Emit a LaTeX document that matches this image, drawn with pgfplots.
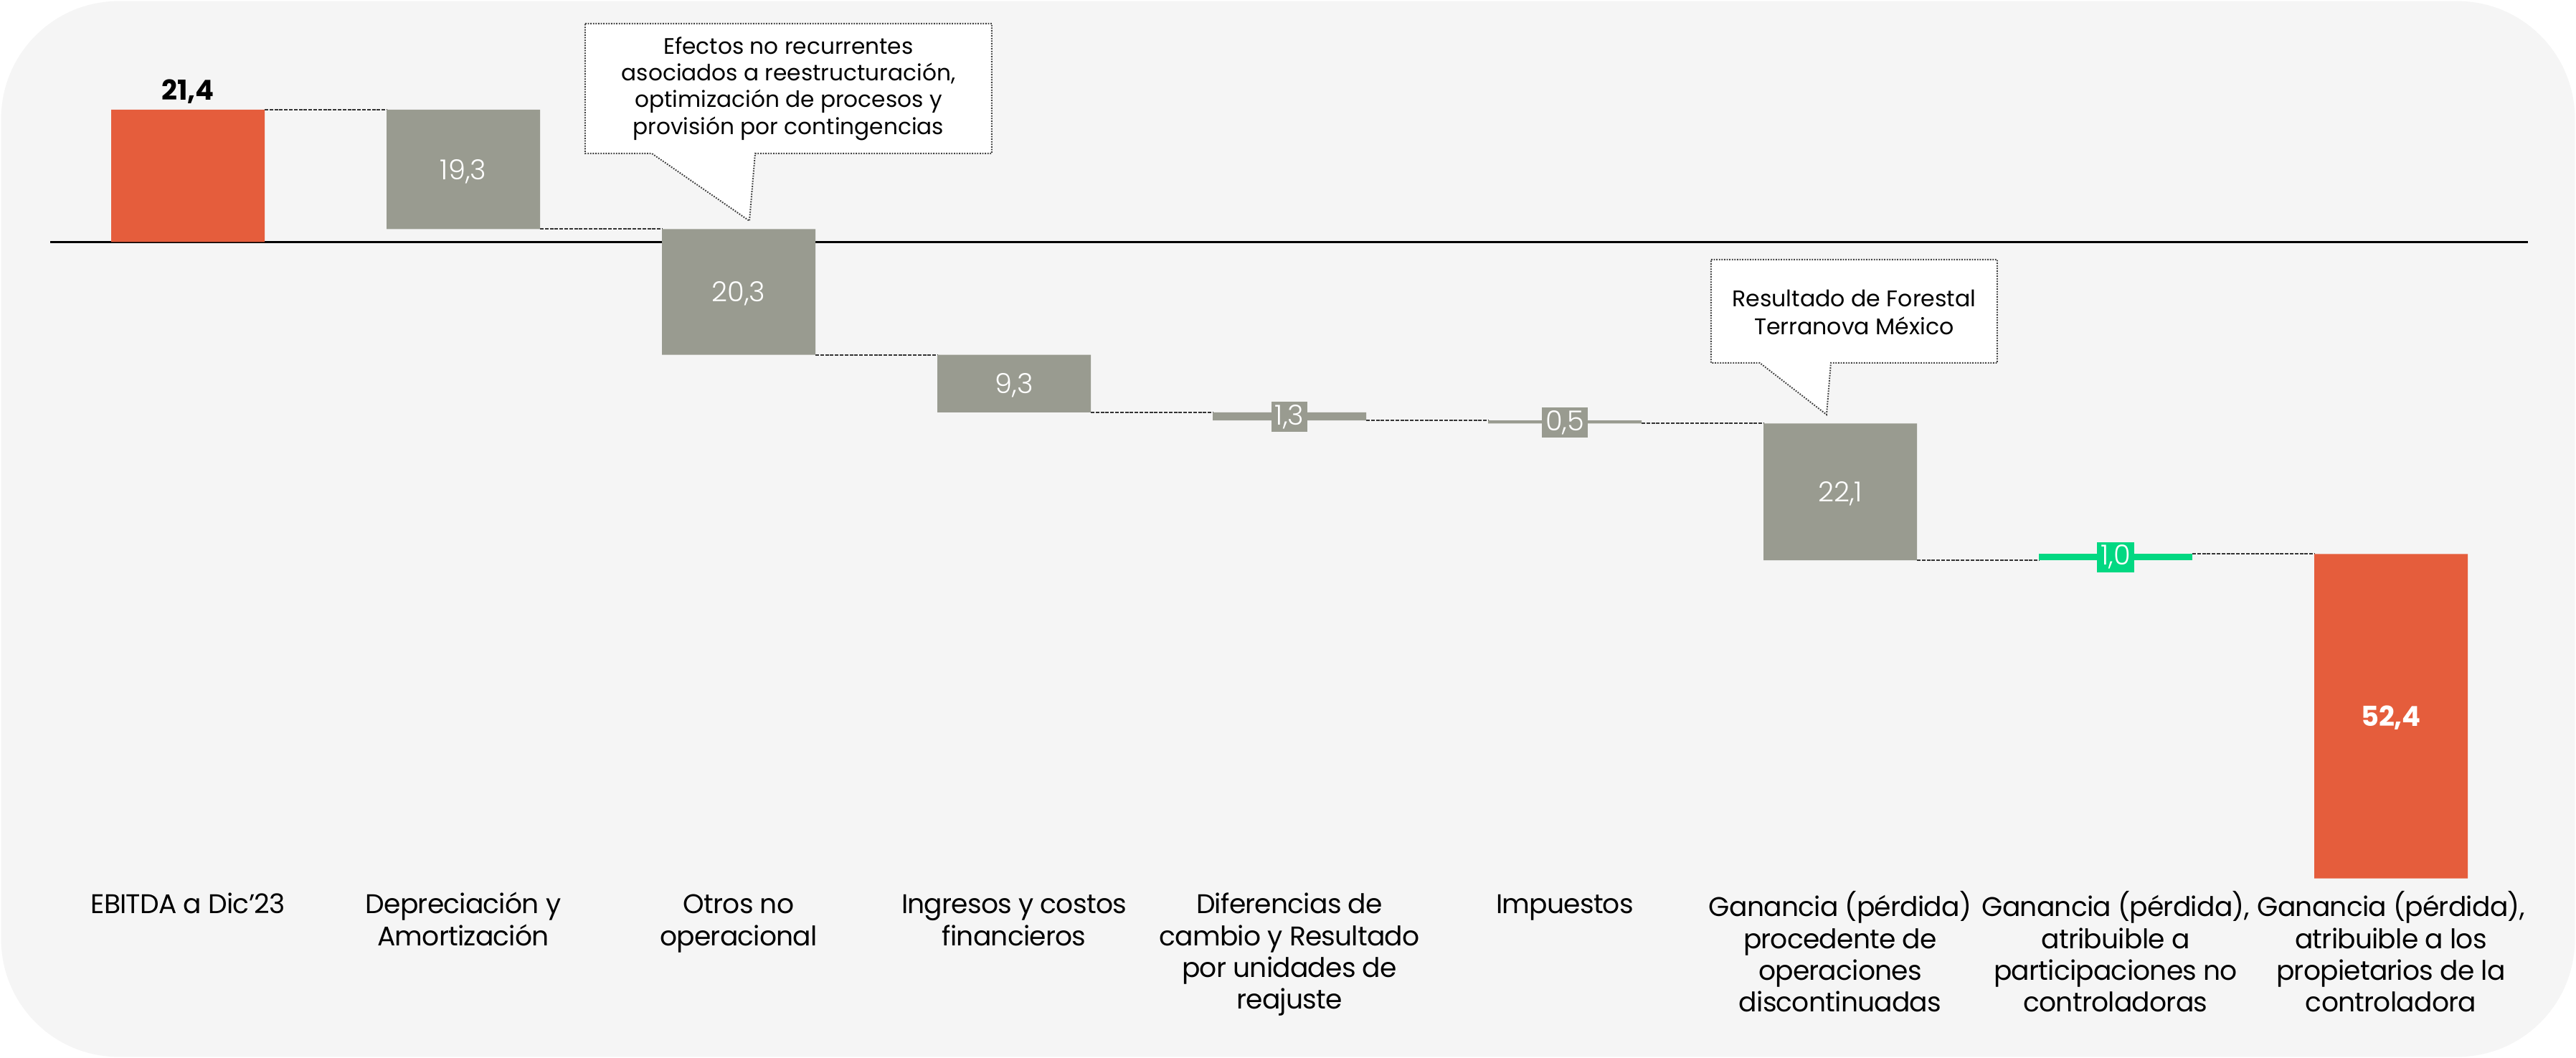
\documentclass[border=0pt]{standalone}
\usepackage{pgfplots}
\pgfplotsset{compat=1.18}
\usepackage{pgfplotstable}
\usepackage{fontspec}
\setmainfont{Poppins}
\IfFontExistsTF{Poppins Light}{\newfontfamily\lightfont{Poppins Light}}{\newfontfamily\lightfont{Poppins}}
\newfontfamily\catfont[LetterSpace=-2]{Poppins}
\definecolor{wfOrange}{HTML}{E55D3C}
\definecolor{wfGray}{HTML}{999B90}
\definecolor{wfGreen}{HTML}{02D882}
\definecolor{wfBg}{HTML}{F5F5F5}

% waterfall: start level and change per category
\pgfplotstableread{
x base  orange gray  green
0 0     21.4   0     0
1 21.4  0      -19.3 0
2 2.1   0      -20.3 0
3 -18.2 0      -9.3  0
4 -27.5 0      -1.3  0
5 -28.8 0      -0.5  0
6 -29.3 0      -22.1 0
7 -51.4 0      0     1.0
8 -50.4 -52.4  0     0
}\wfdata

\pgfkeysifdefined{/pgfplots/stack negative/.@cmd}
  {\pgfplotsset{wfstack/.style={stack negative=on previous}}}
  {\pgfplotsset{wfstack/.style={}}}

\pgfplotsset{
  wf/.style={
    scale only axis, width=898bp, height=310bp,
    at={(0,58.75bp)}, anchor=south west,
    xmin=-0.68229, xmax=8.67188, ymin=-104.577, ymax=39.108,
    clip=false,
  },
  catlab/.style={font=\fontsize{9.4bp}{11.08bp}\catfont},
}

\begin{document}
\begin{tikzpicture}
% background
\fill[white] (0,0) rectangle (898bp,368.75bp);
\fill[wfBg, rounded corners=41bp] (0.4bp,0.4bp) rectangle (897.6bp,368.35bp);

% axis A: baseline, connectors, category labels
\begin{axis}[wf,
  axis line style={draw=none}, major tick length=0pt, ytick=\empty,
  xtick={0,...,8},
  typeset ticklabels with strut,
  xticklabels={
    {EBITDA a Dic’23},
    {Depreciación y\\Amortización},
    {Otros no\\operacional},
    {Ingresos y costos\\financieros},
    {Diferencias de\\cambio y Resultado\\por unidades de\\reajuste},
    {Impuestos},
    {Ganancia (pérdida)\\procedente de\\operaciones\\discontinuadas},
    {Ganancia (pérdida),\\atribuible a\\participaciones no\\controladoras},
    {Ganancia (pérdida),\\atribuible a los\\propietarios de la\\controladora}},
  xticklabel style={catlab, align=center, inner sep=0pt, anchor=north, yshift=-0.5bp, text=black},
]
\addplot[black, line width=0.7bp, mark=none] coordinates {(-0.5,0) (8.497,0)};
\addplot[black!80, line width=0.5bp, dash pattern=on 1.25bp off 0.45bp, mark=none, unbounded coords=jump] coordinates {
  (0.2786,21.4) (0.7214,21.4) (1,nan)
  (1.2786,2.1) (1.7214,2.1) (2,nan)
  (2.2786,-18.2) (2.7214,-18.2) (3,nan)
  (3.2786,-27.5) (3.7214,-27.5) (4,nan)
  (4.2786,-28.8) (4.7214,-28.8) (5,nan)
  (5.2786,-29.3) (5.7214,-29.3) (6,nan)
  (6.2786,-51.4) (6.7214,-51.4) (7,nan)
  (7.2786,-50.4) (7.7214,-50.4)
};
\end{axis}

% axis B: floating bars
\begin{axis}[wf, hide axis, ybar stacked, wfstack, bar width=0.5573]
\addplot[draw=none, fill=none] table[x=x, y=base] {\wfdata};
\addplot[draw=none, fill=wfOrange] table[x=x, y=orange] {\wfdata};
\addplot[draw=none, fill=wfGray] table[x=x, y=gray] {\wfdata};
\addplot[draw=none, fill=wfGreen] table[x=x, y=green] {\wfdata};
\end{axis}

% axis C: value labels
\begin{axis}[wf, hide axis]
\addplot[draw=none, mark=none, nodes near coords, point meta=explicit symbolic,
  nodes near coords align=center,
  every node near coord/.append style={font=\fontsize{9.6bp}{11bp}\selectfont\bfseries, text=black, anchor=base, yshift=3.25bp, inner sep=0pt}]
  table[meta=lab] {
x y lab
0 21.4 21,4
};
\addplot[draw=none, mark=none, nodes near coords, point meta=explicit symbolic,
  nodes near coords align=center,
  every node near coord/.append style={font=\fontsize{9.6bp}{11bp}\selectfont\lightfont, text=white, anchor=center, text depth=0pt, inner sep=0pt}]
  table[meta=lab] {
x y lab
1 11.75 19,3
2 -8.05 20,3
3 -22.85 9,3
6 -40.35 22,1
};
\addplot[draw=none, mark=none, nodes near coords, point meta=explicit symbolic,
  nodes near coords align=center,
  every node near coord/.append style={font=\fontsize{9.6bp}{11bp}\selectfont\bfseries, text=white, anchor=center, text depth=0pt, inner sep=0pt}]
  table[meta=lab] {
x y lab
8 -76.6 52,4
};
\addplot[draw=none, mark=none, nodes near coords, point meta=explicit symbolic,
  nodes near coords align=center,
  every node near coord/.append style={font=\fontsize{9.6bp}{11bp}\selectfont\lightfont, text=white, fill=wfGray, anchor=center, text height=6.9bp, text depth=1.4bp, inner ysep=1.1bp, inner xsep=1.2bp}]
  table[meta=lab] {
x y lab
4 -28.27 1,3
5 -29.2 0,5
};
\addplot[draw=none, mark=none, nodes near coords, point meta=explicit symbolic,
  nodes near coords align=center,
  every node near coord/.append style={font=\fontsize{9.6bp}{11bp}\selectfont\lightfont, text=white, fill=wfGreen, anchor=center, text height=6.9bp, text depth=1.4bp, inner ysep=1.1bp, inner xsep=1.2bp}]
  table[meta=lab] {
x y lab
7 -50.9 1,0
};
\end{axis}

% callouts (pixel coordinates of the reference, y downwards)
\begin{scope}[x=0.25bp, y=-0.25bp, shift={(0,368.75bp)}]
\draw[fill=white, draw=black!75, line width=0.5bp, dash pattern=on 0.45bp off 0.45bp]
  (816,33) -- (1383,33) -- (1383,214) -- (1053,214) -- (1045,308) -- (909,214) -- (816,214) -- cycle;
\node[align=center, font=\fontsize{7.8bp}{9.35bp}\selectfont, inner sep=0pt] at (1099.5,123.5)
  {Efectos no recurrentes\\asociados a reestructuración,\\optimización de procesos y\\provisión por contingencias};
\draw[fill=white, draw=black!75, line width=0.5bp, dash pattern=on 0.45bp off 0.45bp]
  (2386,362) -- (2785,362) -- (2785,506) -- (2553,506) -- (2547,578) -- (2454,506) -- (2386,506) -- cycle;
\node[align=center, font=\fontsize{7.9bp}{9.75bp}\selectfont, inner sep=0pt] at (2585.5,435)
  {Resultado de Forestal\\Terranova México};
\end{scope}

\pgfresetboundingbox
\useasboundingbox (0,0) rectangle (898bp,368.75bp);
\end{tikzpicture}
\end{document}
